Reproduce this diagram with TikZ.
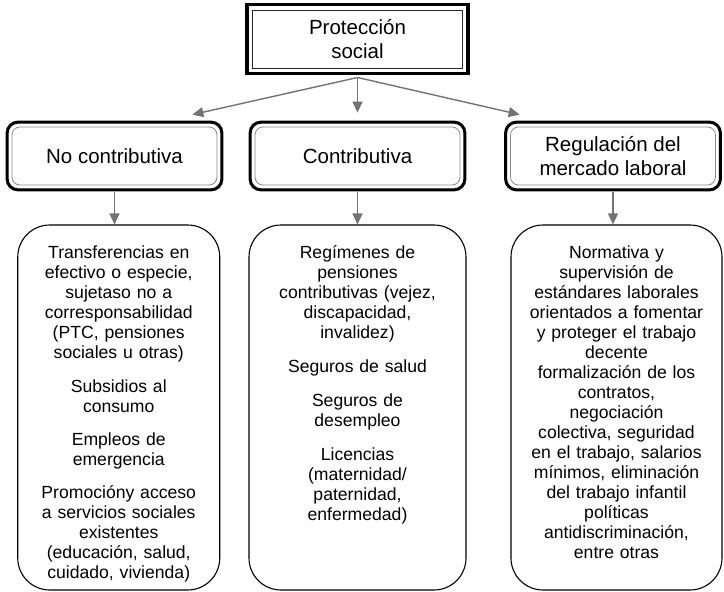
\documentclass[tikz,border=0pt]{standalone}
\usepackage{fontspec}
\setmainfont{Liberation Sans}
\usepackage{tikz}
\usetikzlibrary{arrows.meta, positioning}

\newcommand{\headsize}{\fontsize{20.5}{24}\selectfont}
\newcommand{\bodysize}{\fontsize{17.6}{20}\selectfont}

\begin{document}
\begin{tikzpicture}[x=1pt, y=-1pt,
        topbox/.style={draw=black!85, line width=1pt, minimum width=210pt, minimum height=58pt,
            align=center, font=\headsize, inner sep=0pt},
        midbox/.style={draw=black!45, line width=0.8pt, rounded corners=8pt, minimum width=205pt,
            minimum height=58pt, align=center, font=\headsize, inner sep=0pt},
        lowbox/.style={draw, line width=1.1pt, rounded corners=32pt, minimum height=365pt},
        lowtext/.style={align=center, font=\bodysize, inner sep=0pt},
        arr/.style={draw=black!55, line width=1.4pt, -{Triangle[length=11pt, width=10pt]}}]
    \useasboundingbox (0, 0) rectangle (724, 592);
    % Top box
    \node [topbox] (prot) at (357.5, 39) {Protección\\social};
    \draw [line width=3.6pt] ([shift={(-5pt,-5pt)}]prot.south west) rectangle ([shift={(5pt,5pt)}]prot.north east);
    \coordinate (fork) at ([yshift=-9pt]prot.south);
    % Branches
    \node [midbox] (nocon) at (114.5, 156) {No contributiva};
    \node [midbox] (contr) at (357.5, 156) {Contributiva};
    \node [midbox] (regul) at (613, 156) {Regulación del\\mercado laboral};
    \foreach \n in {nocon, contr, regul}
        \draw [line width=3pt, rounded corners=11pt] ([shift={(-4.5pt,-4.5pt)}]\n.south west) rectangle ([shift={(4.5pt,4.5pt)}]\n.north east);
    % Lists
    \node [lowbox, minimum width=202pt] (lowleft) at (118.75, 407.5) {};
    \node [lowbox, minimum width=217pt] (lowmid) at (357.5, 407.5) {};
    \node [lowbox, minimum width=211pt] (lowright) at (616.5, 407.5) {};
    \node [lowtext, text width=196pt, below=21pt of lowleft.north] (lefttxt) {Transferencias en\\efectivo o especie,\\sujetaso no a\\corresponsabilidad\\(PTC, pensiones\\sociales u otras)\\[14pt]
        Subsidios al\\consumo\\[13pt]
        Empleos de\\emergencia\\[13pt]
        Promocióny acceso\\a servicios sociales\\existentes\\(educación, salud,\\cuidado, vivienda)};
    \node [lowtext, text width=210pt, below=21pt of lowmid.north] (midtxt) {Regímenes de\\pensiones\\contributivas (vejez,\\discapacidad,\\invalidez)\\[14pt]
        Seguros de salud\\[14pt]
        Seguros de\\desempleo\\[14pt]
        Licencias\\(maternidad/\\paternidad,\\enfermedad)};
    \node [lowtext, text width=205pt, below=21pt of lowright.north] (righttxt) {Normativa y\\supervisión de\\estándares laborales\\orientados a fomentar\\y proteger el trabajo\\decente\\formalización de los\\contratos,\\negociación\\colectiva, seguridad\\en el trabajo, salarios\\mínimos, eliminación\\del trabajo infantil\\políticas\\antidiscriminación,\\entre otras};
    % Arrows
    \draw [arr] (fork) -- ([shift={(-25pt,12pt)}]nocon.north east);
    \draw [arr] (fork) -- ([yshift=14pt]contr.north);
    \draw [arr] (fork) -- ([shift={(9.5pt,12pt)}]regul.north west);
    \draw [arr] ([yshift=-7pt]nocon.south) -- (nocon.south |- lowleft.north);
    \draw [arr] ([yshift=-7pt]contr.south) -- (contr.south |- lowmid.north);
    \draw [arr] ([yshift=-7pt]regul.south) -- (regul.south |- lowright.north);
\end{tikzpicture}
\end{document}
